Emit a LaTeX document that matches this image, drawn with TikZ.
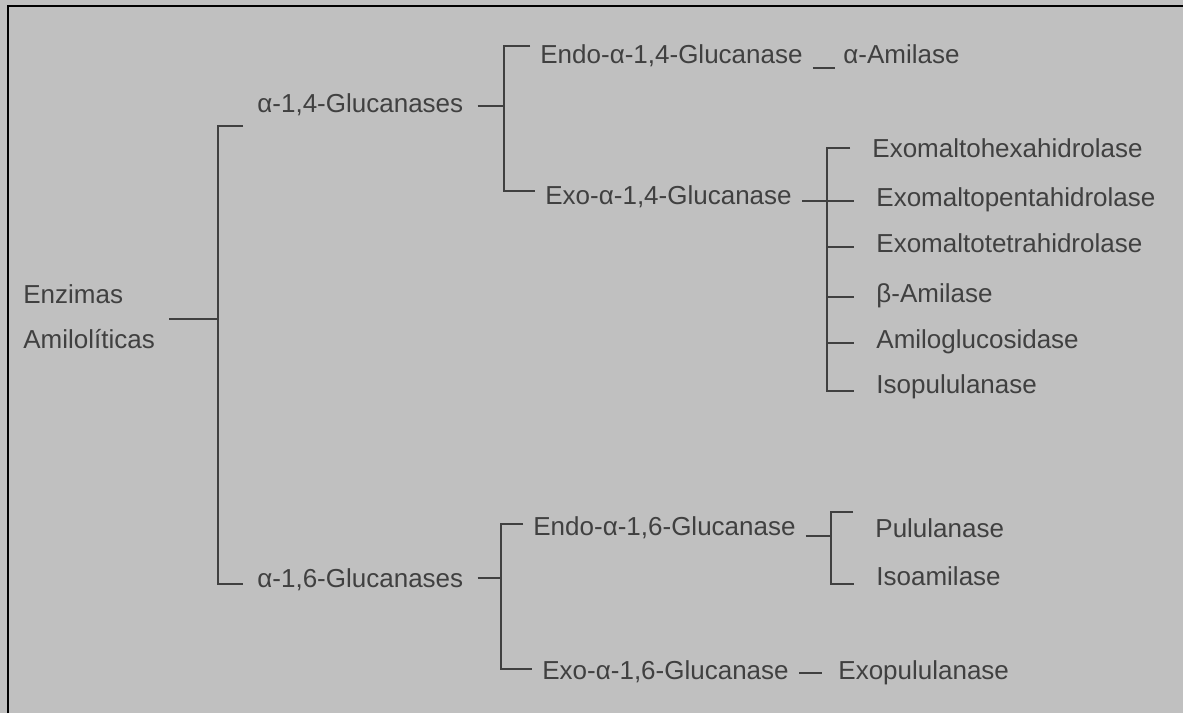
\documentclass[tikz,border=0pt]{standalone}
\usepackage{fontspec}
\setmainfont{Liberation Sans}
\definecolor{panel}{RGB}{192,192,192}
\definecolor{ink}{RGB}{64,64,64}
\tikzset{
    enzyme/.style={font=\fontsize{13}{15}\selectfont, text=ink, inner ysep=0pt, anchor=base west},
    branch/.style={draw=ink, line width=1pt},
}

\begin{document}
\begin{tikzpicture}[x=0.5pt, y=-0.5pt]
    \tikzset{
      group/.style={enzyme, inner xsep=7pt},
      kind/.style={enzyme, inner xsep=5pt},
      leaf/.style={enzyme, inner xsep=11pt}
    }

    \fill[panel] (0,0) rectangle (1183,713);
    \useasboundingbox (0,0) rectangle (1183,713);
    \draw[black, line width=1.25pt] (8,713) -- (8,6) -- (1183,6);

    \node[enzyme, inner xsep=7pt, align=left, font=\fontsize{13}{22.5}\selectfont] (root) at (9,348) {Enzimas\\Amilolíticas};

    \node[group] (a14) at (243,112) {α-1,4-Glucanases};
    \node[group] (a16) at (243,587) {α-1,6-Glucanases};

    \node[kind] (endo14) at (530,63) {Endo-α-1,4-Glucanase};
    \node[kind] (exo14) at (535,204) {Exo-α-1,4-Glucanase};
    \node[kind] (endo16) at (523,535) {Endo-α-1,6-Glucanase};
    \node[kind] (exo16) at (532,679) {Exo-α-1,6-Glucanase};

    \node[enzyme, inner xsep=4pt] (amil) at (835,63) {α-Amilase};
    \node[leaf] (hexa) at (850,157) {Exomaltohexahidrolase};
    \node[leaf] (penta) at (854,206) {Exomaltopentahidrolase};
    \node[leaf] (tetra) at (854,252) {Exomaltotetrahidrolase};
    \node[leaf] (bamil) at (854,302) {β-Amilase};
    \node[leaf] (gluco) at (854,348) {Amiloglucosidase};
    \node[leaf] (isopul) at (854,393) {Isopululanase};
    \node[leaf] (pulul) at (853,537) {Pululanase};
    \node[leaf] (isoamil) at (854,585) {Isoamilase};
    \node[enzyme, inner xsep=8pt] (exopul) at (822,679) {Exopululanase};

    \coordinate (t0a) at (218,126);
    \coordinate (t0m) at (218,319);
    \coordinate (t0b) at (218,584);
    \coordinate (t1a) at (504,46);
    \coordinate (t1m) at (504,106);
    \coordinate (t1b) at (504,191);
    \coordinate (t2a) at (501,524);
    \coordinate (t2m) at (501,578);
    \coordinate (t2b) at (501,669);
    \coordinate (t3a) at (827,148);
    \coordinate (t3b) at (827,391);
    \coordinate (t4a) at (831,512);
    \coordinate (t4m) at (831,536);
    \coordinate (t4b) at (831,584);
    \coordinate (d1) at (0,68);
    \coordinate (d2) at (0,673);

    \draw[branch] (root.east |- t0m) -- (t0m);
    \draw[branch] (t0a -| a14.west) -- (t0a) -- (t0b) -- (t0b -| a16.west);

    \draw[branch] (a14.east |- t1m) -- (t1m);
    \draw[branch] (t1a -| endo14.west) -- (t1a) -- (t1b) -- (t1b -| exo14.west);
    \draw[branch] (endo14.east |- d1) -- (amil.west |- d1);

    \draw[branch] (exo14.east |- penta.mid west) -- (penta.mid west);
    \draw[branch] (t3a -| hexa.west) -- (t3a) -- (t3b) -- (t3b -| isopul.west);
    \foreach \n in {tetra, bamil, gluco}
      \draw[branch] (t3a |- \n.mid west) -- (\n.mid west);

    \draw[branch] (a16.east |- t2m) -- (t2m);
    \draw[branch] (t2a -| endo16.west) -- (t2a) -- (t2b) -- (t2b -| exo16.west);
    \draw[branch] (endo16.east |- t4m) -- (t4m);
    \draw[branch] (t4a -| pulul.west) -- (t4a) -- (t4b) -- (t4b -| isoamil.west);
    \draw[branch] (exo16.east |- d2) -- (exopul.west |- d2);
\end{tikzpicture}
\end{document}
